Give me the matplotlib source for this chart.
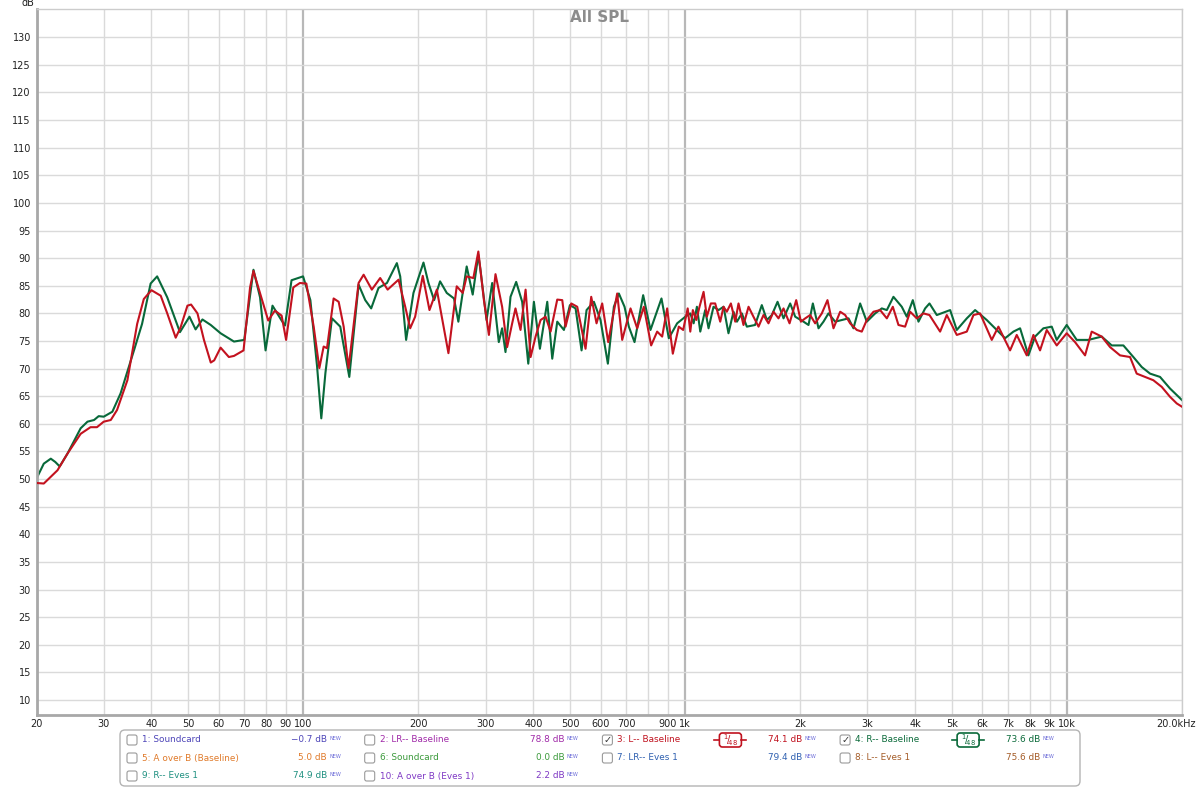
import matplotlib.pyplot as plt
from matplotlib.patches import FancyBboxPatch
from matplotlib.ticker import NullLocator

W, H = 1200, 788

# 3: L-- Baseline (红)
freq_l = [20.0, 20.9, 22.7, 24.1, 26.1, 27.7, 28.8, 30.0, 31.3, 32.5, 34.6, 36.7, 38.2, 40.0, 42.3, 44.0,
          46.3, 47.7, 49.7, 50.8, 52.8, 54.9, 57.2, 58.4, 60.7, 63.8, 65.8, 68.5, 69.7, 72.5, 74.0, 76.2,
          80.9, 84.2, 87.7, 90.1, 94.1, 97.9, 101.8, 106.4, 110.1, 113.0, 115.3, 120.0, 123.7, 127.5, 131.3,
          139.5, 143.8, 151.1, 158.9, 166.2, 177.5, 184.8, 190.4, 196.2, 205.4, 213.9, 223.6, 239.8, 252.1,
          261.4, 267.7, 278.7, 287.2, 297.0, 306.1, 318.5, 331.5, 341.7, 352.2, 359.3, 370.4, 381.9, 393.6,
          405.6, 418.0, 430.8, 444.0, 462.2, 476.4, 486.0, 502.9, 521.4, 548.2, 567.3, 585.8, 606.1, 628.5,
          663.5, 683.8, 719.0, 748.5, 779.1, 814.3, 844.3, 870.2, 896.8, 927.9, 962.0, 987.6, 1015,
          1031, 1047, 1069, 1090, 1117, 1139, 1167, 1198, 1235, 1260, 1285, 1317, 1352, 1379, 1421, 1465,
          1509, 1556, 1603, 1652, 1703, 1755, 1809, 1876, 1953, 2009, 2062, 2124, 2189, 2279, 2358, 2445,
          2546, 2624, 2703, 2814, 2900, 2989, 3112, 3239, 3373, 3497, 3618, 3766, 3882, 4041, 4206, 4362,
          4651, 4842, 5143, 5463, 5687, 5919, 6350, 6610, 7092, 7382, 7842, 8164,
          8497, 8847, 9396, 9979, 10494, 11146, 11602, 12324, 12961, 13764, 14619, 15219, 16003, 16827,
          17696, 18606, 19375, 20000]
spl_l = [49.3, 49.2, 51.6, 54.6, 58.2, 59.4, 59.4, 60.4, 60.7, 62.5, 67.9, 78.1, 82.6, 84.2, 83.2, 80.0,
         75.6, 77.5, 81.4, 81.6, 80.0, 75.2, 71.1, 71.5, 73.8, 72.1, 72.3, 73.0, 73.3, 84.7, 87.7, 84.7,
         78.7, 80.5, 79.6, 75.2, 84.7, 85.5, 85.4, 77.6, 70.1, 74.0, 73.7, 82.7, 82.1, 77.6, 70.1,
         85.5, 87.0, 84.3, 86.4, 84.3, 86.1, 81.2, 77.3, 79.4, 86.8, 80.6, 84.3, 72.8, 84.9,
         83.7, 86.7, 86.4, 91.2, 82.4, 76.1, 87.1, 81.2, 73.9, 78.2, 80.9, 77.0, 84.3, 72.1,
         75.8, 78.8, 79.4, 76.7, 82.5, 82.4, 77.6, 81.8, 81.2, 73.6, 83.0, 78.2, 81.8, 74.8,
         83.6, 75.2, 80.9, 77.3, 81.2, 74.2, 76.7, 75.8, 80.9, 72.7, 77.6, 77.0, 80.9,
         76.7, 80.6, 78.8, 81.2, 83.9, 79.4, 81.8, 81.8, 78.5, 81.2, 80.3, 81.8, 78.5, 81.8, 77.9, 81.2,
         79.4, 77.6, 79.7, 78.2, 80.3, 79.1, 80.9, 78.2, 82.4, 78.5, 79.1, 79.7, 78.2, 80.0, 82.4, 77.3,
         80.3, 79.7, 78.2, 77.0, 76.7, 78.8, 80.3, 80.6, 79.1, 81.2, 77.9, 77.6, 80.3, 79.1, 80.0, 79.7,
         76.7, 79.7, 76.1, 76.7, 79.7, 80.0, 75.2, 77.6, 73.3, 76.1, 72.4, 76.1,
         73.3, 77.0, 74.2, 76.4, 74.8, 72.4, 76.7, 75.8, 73.9, 72.4, 72.1, 69.1, 68.5, 67.9,
         66.7, 64.9, 63.7, 63.1]

# 4: R-- Baseline (绿)
freq_r = [20.0, 20.9, 21.8, 22.4, 23.0, 24.1, 26.1, 27.2, 28.3, 29.1, 30.0, 31.6, 33.2, 36.0, 37.8, 39.8,
          41.4, 44.0, 47.5, 50.3, 52.2, 54.4, 57.2, 60.7, 65.8, 70.0, 74.0, 77.0, 79.6, 83.0, 87.7, 89.5,
          93.1, 99.8, 104.3, 108.6, 111.4, 114.2, 118.8, 124.9, 131.9, 139.5, 145.2, 150.5, 157.3, 165.5,
          175.7, 179.3, 185.8, 194.2, 206.3, 212.6, 220.0, 228.0, 237.4, 248.0, 254.6, 267.7, 277.6, 287.2,
          291.0, 301.8, 312.2, 324.9, 331.5, 338.3, 348.7, 360.8, 374.1, 388.1, 401.5, 416.3, 435.2, 448.5,
          462.2, 481.2, 498.9, 516.2, 535.2, 551.6, 576.5, 600.0, 627.2, 650.3, 670.2, 693.5, 711.8, 736.6,
          776.0, 811.0, 866.6, 905.8, 952.4, 1001,
          1031, 1052, 1073, 1095, 1128, 1151, 1186, 1223, 1260, 1298, 1338, 1366, 1407, 1450, 1524,
          1587, 1636, 1686, 1745, 1809, 1883, 1941, 2041, 2103, 2159, 2234, 2302, 2372, 2470, 2571,
          2677, 2758, 2871, 2989, 3144, 3272, 3373, 3510, 3691, 3804, 3945, 4082, 4249, 4362,
          4559, 4941, 5143, 5463, 5744, 6161, 6478, 6881, 7236, 7534, 7921, 8246,
          8670, 9118, 9396, 9979, 10600, 11371, 12324, 13092, 14045, 14916, 15684, 16493, 17519, 18606, 20000]
spl_r = [50.1, 52.8, 53.7, 53.1, 52.3, 54.6, 59.2, 60.4, 60.7, 61.4, 61.3, 62.2, 65.5, 73.3, 78.1, 85.4,
         86.7, 82.9, 76.6, 79.4, 77.1, 78.9, 77.9, 76.4, 74.9, 75.2, 87.9, 82.9, 73.3, 81.4, 78.7, 77.8,
         86.0, 86.7, 82.4, 70.4, 61.0, 69.2, 79.1, 77.6, 68.5, 85.2, 82.4, 80.9, 84.6, 85.5,
         89.1, 86.7, 75.2, 83.7, 89.2, 85.5, 82.4, 85.8, 83.7, 82.7, 78.5, 88.5, 83.4, 90.6,
         87.8, 78.8, 85.5, 74.8, 77.3, 73.0, 83.0, 85.7, 82.1, 70.9, 82.1, 73.6, 82.1, 71.8,
         78.5, 77.0, 81.5, 80.9, 73.3, 80.6, 82.1, 78.8, 70.9, 81.2, 83.6, 81.2, 77.6, 74.8,
         83.3, 77.0, 82.7, 75.5, 78.2, 79.4,
         80.0, 78.2, 81.2, 76.7, 80.6, 77.3, 81.2, 80.6, 81.2, 76.4, 80.3, 78.5, 80.0, 77.6, 77.9,
         81.5, 78.8, 79.7, 82.1, 79.1, 81.8, 79.4, 78.5, 77.9, 81.8, 77.3, 78.5, 80.0, 78.5, 78.8,
         79.1, 77.3, 81.8, 78.5, 80.0, 80.9, 80.6, 83.0, 81.2, 79.4, 82.4, 78.5, 80.9, 81.8,
         79.7, 80.6, 77.0, 79.1, 80.6, 78.8, 77.3, 75.5, 76.7, 77.3, 72.4, 75.8,
         77.3, 77.6, 75.2, 77.9, 75.2, 75.2, 75.8, 74.2, 74.2, 72.1, 70.3, 69.1, 68.5, 66.4, 64.3]

x_ticks = [20, 30, 40, 50, 60, 70, 80, 90, 100, 200, 300, 400, 500, 600, 700, 800, 900, 1000,
           2000, 3000, 4000, 5000, 6000, 7000, 8000, 9000, 10000, 20000]
x_labels = ['20', '30', '40', '50', '60', '70', '80', '90', '100', '200', '300', '400', '500', '600', '700', '',
            '900', '1k', '2k', '3k', '4k', '5k', '6k', '7k', '8k', '9k', '10k', '']
y_ticks = list(range(10, 131, 5))

# 图例
legend_names = ['1: Soundcard', '2: LR-- Baseline', '3: L-- Baseline', '4: R-- Baseline',
                '5: A over B (Baseline)', '6: Soundcard', '7: LR-- Eves 1', '8: L-- Eves 1',
                '9: R-- Eves 1', '10: A over B (Eves 1)']
legend_values = ['\u22120.7 dB', '78.8 dB', '74.1 dB', '73.6 dB', '5.0 dB', '0.0 dB',
                 '79.4 dB', '75.6 dB', '74.9 dB', '2.2 dB']
legend_colors = ['#4d45b8', '#a02aa8', '#c0121f', '#0b6a3a', '#e07a2a', '#3c9a3c',
                 '#2f60b0', '#a45c28', '#1f9080', '#7e38c4']
legend_checked = [False, False, True, True, False, False, False, False, False, False]

red = '#c3121f'
green = '#08693a'


def fx(x):
    return x / W


def fy(y):
    return 1 - y / H


fig = plt.figure(figsize=(W / 100, H / 100), dpi=100)
ax = fig.add_axes([fx(36.5), fy(715), (1182 - 36.5) / W, (715 - 9) / H])
ax.set_xscale('log')
ax.set_xlim(20, 20000)
ax.set_ylim(7.3, 135.1)

# 网格
for f in x_ticks:
    if f in (100, 1000, 10000):
        ax.axvline(f, color='#b8b8b8', lw=1.6, zorder=0)
    else:
        ax.axvline(f, color='#dadada', lw=1.0, zorder=0)
for v in y_ticks:
    ax.axhline(v, color='#dadada', lw=1.0, zorder=0)

ax.plot(freq_l, spl_l, color=red, lw=1.5, zorder=3)
ax.plot(freq_r, spl_r, color=green, lw=1.5, zorder=2)

ax.set_xticks(x_ticks)
ax.set_xticklabels(x_labels)
ax.xaxis.set_minor_locator(NullLocator())
ax.set_yticks(y_ticks)
ax.set_yticklabels([str(v) for v in y_ticks])
ax.tick_params(length=0, labelsize=7, colors='#222222')
ax.tick_params(axis='x', pad=3)
ax.tick_params(axis='y', pad=4)

for side in ['left', 'bottom']:
    ax.spines[side].set_color('#a8a8a8')
    ax.spines[side].set_linewidth(2)
for side in ['top', 'right']:
    ax.spines[side].set_color('#cccccc')
    ax.spines[side].set_linewidth(1)

# 20k 的标签往左放一点
fig.text(fx(1176), fy(719), '20.0kHz', ha='center', va='top', fontsize=7, color='#222222')
fig.text(fx(28), fy(3), 'dB', ha='center', va='center', fontsize=7, color='#222222')
fig.text(fx(600), fy(17), 'All SPL', ha='center', va='center', fontsize=11,
         fontweight='bold', color='#8c8c8c')

# 图例框
box = FancyBboxPatch((1.20, (H - 786) / 100), 9.60, 0.56,
                     boxstyle='round,pad=0,rounding_size=0.05',
                     transform=fig.dpi_scale_trans, fc='white', ec='#b4b4b4', lw=1)
fig.patches.append(box)

for i in range(len(legend_names)):
    row = i // 4
    col = i % 4
    cx = 132 + col * 237.7
    cy = 740 + row * 18
    cb = FancyBboxPatch(((cx - 5) / 100, (H - cy - 5) / 100), 0.10, 0.10,
                        boxstyle='round,pad=0,rounding_size=0.02',
                        transform=fig.dpi_scale_trans, fc='white', ec='#9a9a9a', lw=0.8)
    fig.patches.append(cb)
    if legend_checked[i]:
        fig.text(fx(cx), fy(cy), '\u2713', ha='center', va='center', fontsize=7, color='#333333')
    fig.text(fx(cx + 10), fy(cy), legend_names[i], ha='left', va='center', fontsize=6.4,
             color=legend_colors[i])
    fig.text(fx(cx + 195), fy(cy), legend_values[i], ha='right', va='center', fontsize=6.4,
             color=legend_colors[i])
    fig.text(fx(cx + 197), fy(cy - 1), 'NEW', ha='left', va='center', fontsize=3.6, color='#6a6ad8')
    if legend_checked[i]:
        bx = cx + 123
        badge = FancyBboxPatch(((bx - 11) / 100, (H - cy - 7) / 100), 0.22, 0.14,
                               boxstyle='round,pad=0,rounding_size=0.03',
                               transform=fig.dpi_scale_trans, fc='white',
                               ec=legend_colors[i], lw=1.2)
        fig.patches.append(badge)
        fig.add_artist(plt.Line2D([fx(bx - 16), fx(bx - 11)], [fy(cy), fy(cy)],
                                  transform=fig.transFigure, color=legend_colors[i], lw=1.2))
        fig.add_artist(plt.Line2D([fx(bx + 11), fx(bx + 16)], [fy(cy), fy(cy)],
                                  transform=fig.transFigure, color=legend_colors[i], lw=1.2))
        fig.text(fx(bx), fy(cy), r'$^{1}\!/\!_{48}$', ha='center', va='center', fontsize=7,
                 color=legend_colors[i])

fig.savefig('out.png', dpi=100, facecolor='white')
